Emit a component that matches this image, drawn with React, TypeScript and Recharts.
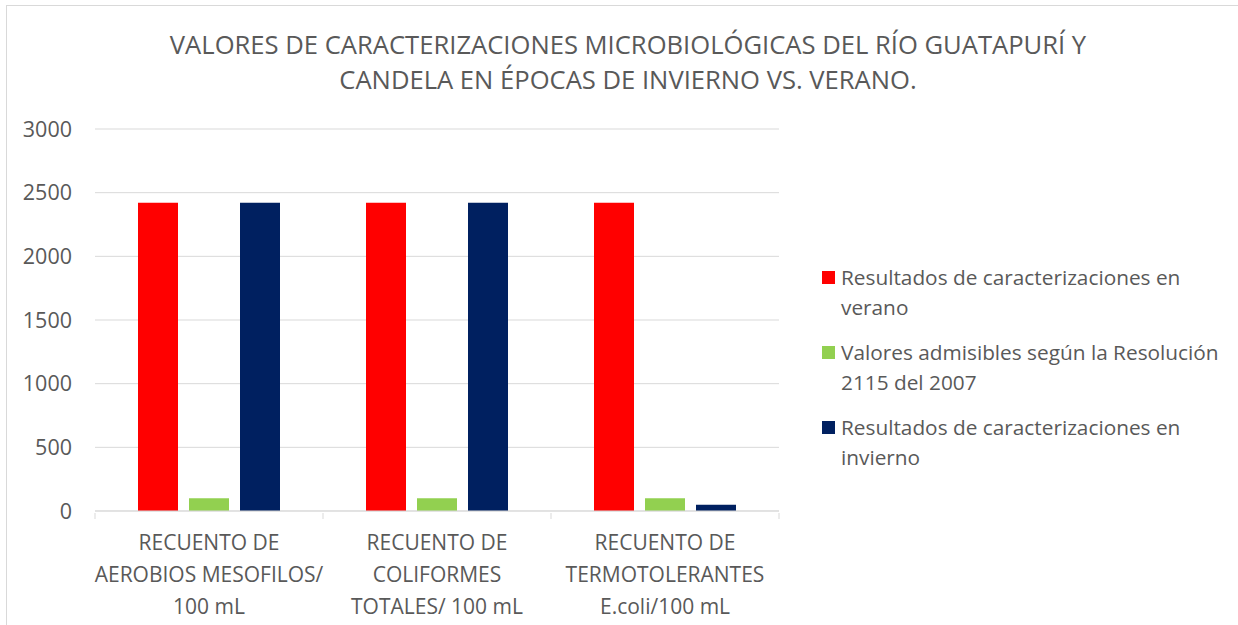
import React from 'react';
import { BarChart, Bar, XAxis, YAxis, CartesianGrid } from 'recharts';

const categories = [
  'RECUENTO DE\nAEROBIOS MESOFILOS/\n100 mL',
  'RECUENTO DE\nCOLIFORMES\nTOTALES/ 100 mL',
  'RECUENTO DE\nTERMOTOLERANTES\nE.coli/100 mL',
];
const verano = [2420, 2420, 2420];
const admisibles = [100, 100, 100];
const invierno = [2420, 2420, 49];
const yTicks = [0, 500, 1000, 1500, 2000, 2500, 3000];

const seriesNames = [
  'Resultados de caracterizaciones en\nverano',
  'Valores admisibles según la Resolución\n2115 del 2007',
  'Resultados de caracterizaciones en\ninvierno',
];
const seriesColors = ['#FF0000', '#92D050', '#002060'];

const title = [
  'VALORES DE CARACTERIZACIONES MICROBIOLÓGICAS DEL RÍO GUATAPURÍ Y',
  'CANDELA EN ÉPOCAS DE INVIERNO VS. VERANO.',
];

const data = categories.map((c, i) => ({
  name: c,
  verano: verano[i],
  admisibles: admisibles[i],
  invierno: invierno[i],
}));

const FONT = '"Open Sans", sans-serif';
const TEXT = '#595959';
const GRID = '#d9d9d9';
const BAND = 228;

const CategoryTick = (props: any) => {
  const { x, y, payload, index } = props;
  const lines = String(payload.value).split('\n');
  return (
    <g>
      <line x1={x - BAND / 2} x2={x - BAND / 2} y1={y - 6} y2={y} stroke={GRID} />
      {index === categories.length - 1 && (
        <line x1={x + BAND / 2} x2={x + BAND / 2} y1={y - 6} y2={y} stroke={GRID} />
      )}
      <text x={x} y={y} textAnchor="middle" fill={TEXT} fontFamily={FONT} fontSize={21}>
        {lines.map((l, i) => (
          <tspan key={i} x={x} dy={i === 0 ? 31 : 32}>
            {l}
          </tspan>
        ))}
      </text>
    </g>
  );
};

export default function App() {
  return (
    <div style={{ position: 'absolute', left: 0, top: 0, width: 1238, height: 625, background: '#fff', overflow: 'hidden' }}>
      <div
        style={{
          position: 'absolute',
          left: 6,
          top: 5,
          width: 1260,
          height: 660,
          border: `1px solid ${GRID}`,
        }}
      />
      <div
        style={{
          position: 'absolute',
          left: 0,
          top: 27,
          width: 1256,
          textAlign: 'center',
          fontFamily: FONT,
          fontSize: 25.6,
          lineHeight: '35px',
          color: TEXT,
        }}
      >
        {title.map((t, i) => (
          <div key={i}>{t}</div>
        ))}
      </div>
      <div style={{ position: 'absolute', left: 0, top: 0 }}>
        <BarChart
          width={1238}
          height={625}
          data={data}
          margin={{ top: 129, right: 459, bottom: 0, left: 0 }}
          barCategoryGap={43}
          barGap={11}
        >
          <CartesianGrid vertical={false} stroke={GRID} />
          <YAxis
            width={95}
            domain={[0, 3000]}
            ticks={yTicks}
            axisLine={false}
            tickLine={false}
            tickSize={0}
            tickMargin={23}
            tick={{ fill: TEXT, fontFamily: FONT, fontSize: 21.5 }}
          />
          <XAxis
            dataKey="name"
            height={114}
            axisLine={{ stroke: GRID }}
            tickLine={false}
            tickSize={6}
            interval={0}
            tick={<CategoryTick />}
          />
          <Bar dataKey="verano" fill={seriesColors[0]} isAnimationActive={false} />
          <Bar dataKey="admisibles" fill={seriesColors[1]} isAnimationActive={false} />
          <Bar dataKey="invierno" fill={seriesColors[2]} isAnimationActive={false} />
        </BarChart>
      </div>
      <div style={{ position: 'absolute', left: 822, top: 262, fontFamily: FONT, fontSize: 20.8, color: TEXT }}>
        {seriesNames.map((n, i) => (
          <div key={i} style={{ position: 'relative', paddingLeft: 19, lineHeight: '30px', marginBottom: 15, whiteSpace: 'nowrap' }}>
            <span
              style={{
                position: 'absolute',
                left: 0,
                top: 9,
                width: 13,
                height: 13,
                background: seriesColors[i],
              }}
            />
            {n.split('\n').map((l, j) => (
              <div key={j}>{l}</div>
            ))}
          </div>
        ))}
      </div>
    </div>
  );
}
